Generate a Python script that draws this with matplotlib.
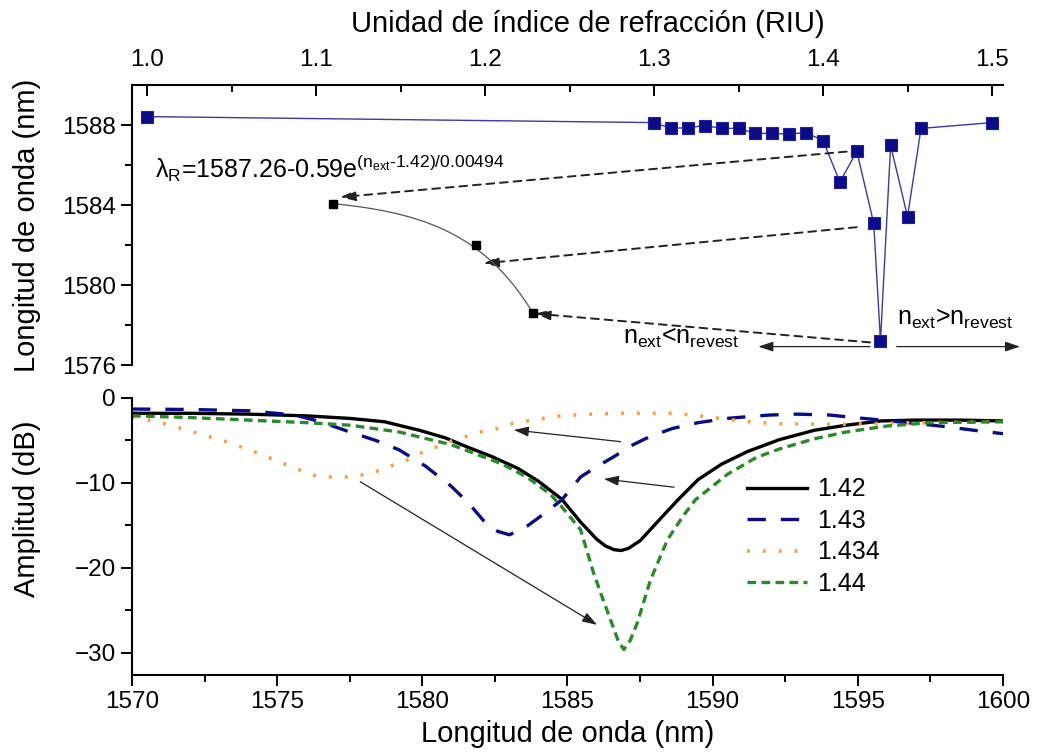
import numpy as np
import matplotlib
matplotlib.use("Agg")
import matplotlib.pyplot as plt

plt.rcParams['font.family'] = ['Liberation Sans', 'DejaVu Sans']
plt.rcParams['mathtext.fontset'] = 'custom'
plt.rcParams['mathtext.rm'] = 'Liberation Sans'
plt.rcParams['mathtext.it'] = 'Liberation Sans'

# --- top panel: resonance wavelength vs external index ---
riu = [1.0, 1.30, 1.31, 1.32, 1.33, 1.34, 1.35, 1.36, 1.37, 1.38, 1.39,
       1.40, 1.41, 1.42, 1.43, 1.434, 1.44, 1.45, 1.458, 1.50]
lam_res = [1588.42, 1588.12, 1587.83, 1587.87, 1587.97, 1587.83, 1587.83,
           1587.58, 1587.58, 1587.55, 1587.62, 1587.22, 1585.15, 1586.68,
           1583.08, 1577.20, 1586.98, 1583.42, 1587.83, 1588.12]

# points used for the exponential fit (inset)
fit_n = [1.42, 1.43, 1.434]
fit_lam = [1586.68, 1583.08, 1577.20]
fit_a, fit_b, fit_n0, fit_t = 1587.26, 0.59, 1.42, 0.00494

# --- bottom panel: spectra ---
wl_142 = [1570, 1572, 1574, 1576, 1577.5, 1578.7, 1579.9, 1580.8, 1581.5, 1582.4,
          1583.3, 1584.0, 1584.8, 1585.45, 1586.0, 1586.3, 1586.6, 1586.85, 1587.1,
          1587.5, 1588.2, 1588.8, 1589.5, 1590.3, 1591.2, 1592.3, 1593.5, 1594.6,
          1595.8, 1597, 1598.5, 1600]
db_142 = [-1.8, -1.8, -1.9, -2.1, -2.4, -2.8, -3.8, -4.7, -5.7, -6.9,
          -8.3, -9.8, -11.9, -14.6, -16.6, -17.4, -17.85, -17.95, -17.7,
          -16.8, -14.2, -12.0, -9.6, -7.8, -6.3, -4.9, -3.8, -3.2,
          -2.7, -2.6, -2.6, -2.7]

wl_143 = [1570, 1572, 1574, 1575.6, 1576.5, 1577.5, 1578.4, 1579.2, 1580.1, 1581.0,
          1581.6, 1582.1, 1582.6, 1583.0, 1583.6, 1584.2, 1584.8, 1585.45, 1585.9,
          1586.6, 1587.2, 1587.8, 1588.6, 1589.5, 1590.5, 1591.2, 1592.0, 1592.9,
          1594.0, 1594.6, 1595.5, 1596.4, 1597.3, 1598.1, 1599, 1600]
db_143 = [-1.3, -1.35, -1.5, -2.0, -2.8, -4.0, -5.0, -6.1, -8.0, -10.4,
          -12.4, -14.4, -15.7, -16.1, -15.1, -13.6, -12.0, -9.3, -8.3,
          -6.9, -5.6, -4.6, -3.6, -2.9, -2.4, -2.2, -2.0, -1.9,
          -2.0, -2.2, -2.5, -2.8, -3.1, -3.4, -3.8, -4.2]

wl_1434 = [1570, 1571.1, 1572.1, 1573.2, 1574.2, 1575.2, 1576.25, 1576.83, 1577.4,
           1577.9, 1578.44, 1579.0, 1579.47, 1579.93, 1580.39, 1580.97, 1581.54,
           1582.0, 1582.57, 1583.03, 1583.6, 1584.76, 1585.79, 1587, 1588.5,
           1589.3, 1590.0, 1590.7, 1591.6, 1592.5, 1594.6, 1597, 1600]
db_1434 = [-2.2, -3.0, -4.0, -5.1, -6.3, -7.7, -9.1, -9.3, -9.3,
           -9.06, -8.6, -7.9, -7.3, -6.5, -5.9, -5.1, -4.5,
           -4.0, -3.6, -3.06, -2.7, -2.1, -1.9, -1.8, -1.8,
           -2.0, -2.3, -2.6, -2.9, -3.05, -3.1, -2.9, -2.8]

wl_144 = [1570, 1572, 1574, 1576, 1577.5, 1579.2, 1581.0, 1582.7, 1583.6, 1584.4,
          1584.8, 1585.45, 1585.9, 1586.2, 1586.48, 1586.75, 1586.94, 1587.15,
          1587.4, 1587.86, 1588.44, 1589.0, 1589.4, 1590.5, 1591.5, 1592.3, 1593.5,
          1594.6, 1596, 1597.5, 1600]
db_144 = [-2.1, -2.3, -2.6, -2.9, -3.2, -4.0, -5.5, -7.7, -9.3, -11.3,
          -12.8, -15.5, -20.6, -23.5, -26.1, -28.6, -29.6, -28.6,
          -26.5, -21.4, -16.7, -13.8, -12.0, -9.0, -7.0, -6.0, -4.8,
          -4.0, -3.3, -2.9, -2.8]

labels = ['1.42', '1.43', '1.434', '1.44']

navy = '#0b0b85'
orange = '#f7a040'
green = '#2a8a2a'
TICK = 17.5
LAB = 21

fig = plt.figure(figsize=(10.37, 7.52), dpi=100)
W, H = 1037, 752
ax1 = fig.add_axes([132 / W, 1 - 365 / H, 871 / W, 280 / H])
ax2 = fig.add_axes([132 / W, 1 - 675 / H, 871 / W, 277 / H])

# ---------------- top panel ----------------
ax1.plot(riu, lam_res, '-', color='#3a3aa8', lw=1.0, zorder=2)
ax1.plot(riu, lam_res, 's', ls='none', ms=9, mfc=navy, mec='#2020a0', mew=0.8,
         zorder=3, clip_on=False)
ax1.set_xlim(0.9911, 1.5065)
ax1.set_ylim(1576, 1590)
ax1.xaxis.tick_top()
ax1.xaxis.set_label_position('top')
ax1.set_xticks([1.0, 1.1, 1.2, 1.3, 1.4, 1.5])
ax1.set_xticks(np.arange(1.05, 1.5, 0.1), minor=True)
ax1.set_yticks([1576, 1580, 1584, 1588])
ax1.set_yticks([1578, 1582, 1586], minor=True)
ax1.set_xlabel('Unidad de índice de refracción (RIU)', fontsize=LAB, labelpad=10)
ax1.xaxis.set_label_coords(0.523, 1.19)
ax1.set_ylabel('Longitud de onda (nm)', fontsize=LAB)
ax1.spines['bottom'].set_visible(False)
ax1.spines['right'].set_visible(False)
ax1.tick_params(axis='x', which='both', direction='in', top=True, bottom=False,
                labelsize=TICK, pad=10)
ax1.tick_params(axis='x', which='major', length=8, width=1.4)
ax1.tick_params(axis='x', which='minor', length=5, width=1.4)
ax1.tick_params(axis='y', which='both', direction='out', right=False, labelsize=TICK)
ax1.tick_params(axis='y', which='major', length=8, width=1.4)
ax1.tick_params(axis='y', which='minor', length=5, width=1.4)
for s in ['top', 'left']:
    ax1.spines[s].set_linewidth(1.5)

# inset with the exponential fit
x0, y0, x1, y1 = 1.1103, 1584.07, 1.2284, 1578.58
ins = ax1.inset_axes([x0, y1, x1 - x0, y0 - y1], transform=ax1.transData)
ins.set_xlim(fit_n[0], fit_n[-1])
ins.set_ylim(fit_lam[-1], fit_lam[0])
ins.axis('off')
nn = np.linspace(fit_n[0], fit_n[-1], 200)
ins.plot(nn, fit_a - fit_b * np.exp((nn - fit_n0) / fit_t), color='#555555', lw=0.9,
         clip_on=False)
ins.plot(fit_n, fit_lam, 's', ms=5.5, color='black', clip_on=False)

ax1.text(1.0047, 1585.85,
         'λ$_\\mathregular{R}$=1587.26-0.59e$^\\mathregular{(n_{ext}\u20101.42)/0.00494}$',
         fontsize=18, va='center', ha='left')

dash_arrows = [((1.414, 1586.67), (1.1142, 1584.39)),
               ((1.4199, 1582.89), (1.1990, 1581.08)),
               ((1.4278, 1577.13), (1.2296, 1578.57))]
for start, end in dash_arrows:
    ax1.annotate('', xy=end, xytext=start,
                 arrowprops=dict(arrowstyle='-|>,head_length=0.9,head_width=0.3',
                                 ls=(0, (4, 3)), lw=1.4, color='#222222',
                                 shrinkA=0, shrinkB=0))
for start, end in [((1.4278, 1576.92), (1.3617, 1576.92)),
                   ((1.4436, 1576.92), (1.5166, 1576.92))]:
    ax1.annotate('', xy=end, xytext=start, annotation_clip=False,
                 arrowprops=dict(arrowstyle='-|>,head_length=0.9,head_width=0.3',
                                 lw=0.9, color='#222222', shrinkA=0, shrinkB=0))
ax1.text(1.2817, 1577.35, 'n$_\\mathregular{ext}$<n$_\\mathregular{revest}$',
         fontsize=18, va='center', ha='left')
ax1.text(1.4438, 1578.3, 'n$_\\mathregular{ext}$>n$_\\mathregular{revest}$',
         fontsize=18, va='center', ha='left')

# ---------------- bottom panel ----------------
ax2.plot(wl_142, db_142, color='black', lw=2.4, label=labels[0])
ax2.plot(wl_143, db_143, color=navy, lw=2.4, ls=(0, (5.5, 4.5)), label=labels[1])
ax2.plot(wl_1434, db_1434, color=orange, lw=2.6, ls=(0, (0.8, 3.6)), label=labels[2])
ax2.plot(wl_144, db_144, color=green, lw=2.4, ls=(0, (2.6, 1.6)), label=labels[3])
ax2.set_xlim(1570, 1600)
ax2.set_ylim(-32.6, 0)
ax2.set_xticks(np.arange(1570, 1601, 5))
ax2.set_xticks(np.arange(1572.5, 1600, 5), minor=True)
ax2.set_yticks([-30, -20, -10, 0])
ax2.set_yticks([-25, -15, -5], minor=True)
ax2.spines['top'].set_visible(False)
ax2.spines['right'].set_visible(False)
for s in ['bottom', 'left']:
    ax2.spines[s].set_linewidth(1.5)
ax2.tick_params(which='both', direction='out', labelsize=TICK, width=1.4)
ax2.tick_params(which='major', length=8)
ax2.tick_params(which='minor', length=5)
ax2.set_xlabel('Longitud de onda (nm)', fontsize=LAB, labelpad=5)
ax2.set_ylabel('Amplitud (dB)', fontsize=LAB)
ax2.yaxis.set_label_coords(-0.105, 0.6)
ax1.yaxis.set_label_coords(-0.105, 0.5)

for start, end in [((1586.83, -5.14), (1583.15, -3.76)),
                   ((1588.67, -10.5), (1586.25, -9.53)),
                   ((1577.86, -9.85), (1586.02, -26.7))]:
    ax2.annotate('', xy=end, xytext=start,
                 arrowprops=dict(arrowstyle='-|>,head_length=0.9,head_width=0.3',
                                 lw=0.9, color='#222222', shrinkA=0, shrinkB=0))

ax2.legend(loc='upper left', bbox_to_anchor=(0.68, 0.795), frameon=False,
           fontsize=18, handlelength=2.4, handletextpad=0.4, labelspacing=0.3,
           borderpad=0.4)

fig.savefig('out.png', dpi=100)
